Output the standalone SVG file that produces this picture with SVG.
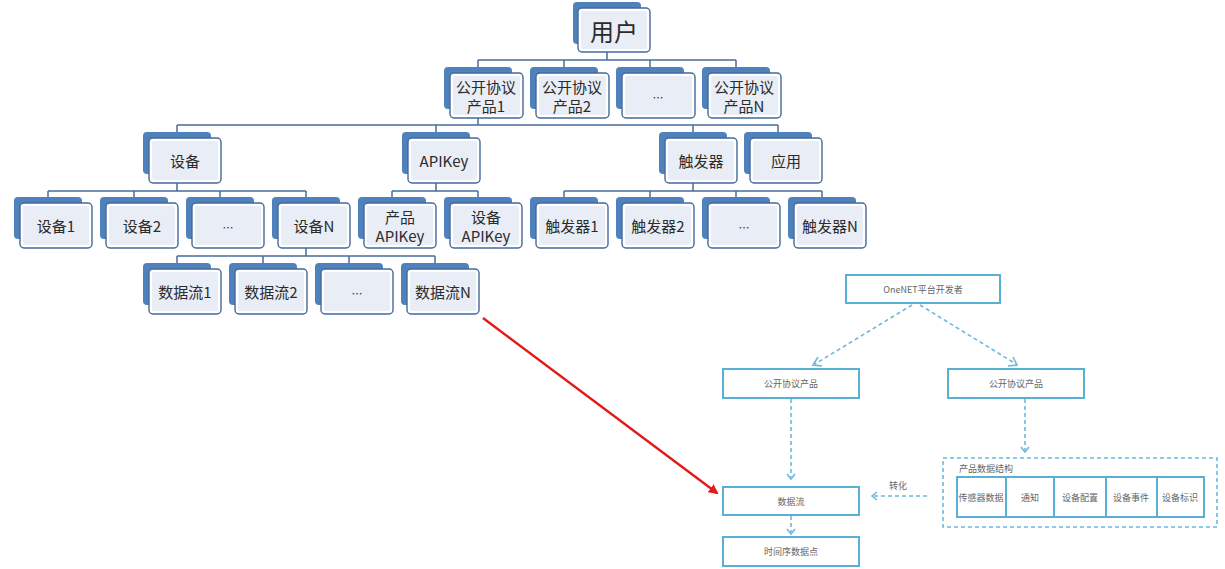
<svg xmlns="http://www.w3.org/2000/svg" width="1225" height="569" viewBox="0 0 1225 569">
<style>
.bk{fill:#4f81bd}
.fr{fill:#ffffff;stroke:#46699a;stroke-width:1.4}
.in{fill:#e9edf5}
.t{font-family:"Noto Sans CJK SC","Noto Sans",sans-serif;font-size:15px;fill:#2b2b2b;text-anchor:middle;dominant-baseline:central}
.tl{font-size:24px}
.el{font-size:11px}
.ln{fill:none;stroke:#4a6c9b;stroke-width:1.5}
.rb{fill:#ffffff;stroke:#5ab0d4;stroke-width:2}
.rt{font-family:"Noto Sans CJK SC","Noto Sans",sans-serif;font-size:9px;fill:#666;text-anchor:middle;dominant-baseline:central}
.dash{fill:none;stroke:#6bb8dc;stroke-width:1.6;stroke-dasharray:4 3}
.chev{fill:none;stroke:#6bb8dc;stroke-width:1.6}
</style>
<defs>
<marker id="red" markerWidth="10" markerHeight="10" refX="8" refY="5" orient="auto" markerUnits="userSpaceOnUse"><path d="M0,0 L10,5 L0,10 z" fill="#e41a1a"/></marker>
</defs>
<rect width="1225" height="569" fill="#ffffff"/>
<g id="connectors">
<path class="ln" d="M607,52 V60 M478,60 H736 M478,60 V67 M564,60 V67 M650,60 V67 M736,60 V67"/>
<path class="ln" d="M478,118 V125 M177,125 H778 M177,125 V132 M436,125 V132 M693,125 V132 M778,125 V132"/>
<path class="ln" d="M177,183 V191 M48,191 H306 M48,191 V197 M134,191 V197 M220,191 V197 M306,191 V197"/>
<path class="ln" d="M436,183 V191 M392,191 H478 M392,191 V197 M478,191 V197"/>
<path class="ln" d="M693,183 V191 M564,191 H822 M564,191 V197 M650,191 V197 M736,191 V197 M822,191 V197"/>
<path class="ln" d="M306,248 V256 M177,256 H435 M177,256 V263 M263,256 V263 M349,256 V263 M435,256 V263"/>
<line x1="483" y1="318" x2="717" y2="493" stroke="#e41a1a" stroke-width="2.5" marker-end="url(#red)"/>
</g>
<g id="n-user"><rect class="bk" x="573" y="2" width="68" height="42" rx="4"/><rect class="fr" x="578" y="8" width="72" height="44" rx="4"/><rect class="in" x="581" y="11" width="66" height="38" rx="2"/><text class="t tl" x="614" y="30">用户</text></g>
<g id="n-p1"><rect class="bk" x="444" y="67" width="68" height="42" rx="4"/><rect class="fr" x="450" y="73" width="73" height="45" rx="4"/><rect class="in" x="453" y="76" width="67" height="39" rx="2"/><text class="t" x="486" y="86">公开协议</text><text class="t" x="486" y="105">产品1</text></g>
<g id="n-p2"><rect class="bk" x="530" y="67" width="68" height="42" rx="4"/><rect class="fr" x="536" y="73" width="73" height="45" rx="4"/><rect class="in" x="539" y="76" width="67" height="39" rx="2"/><text class="t" x="572" y="86">公开协议</text><text class="t" x="572" y="105">产品2</text></g>
<g id="n-pd"><rect class="bk" x="616" y="67" width="68" height="42" rx="4"/><rect class="fr" x="622" y="73" width="73" height="45" rx="4"/><rect class="in" x="625" y="76" width="67" height="39" rx="2"/><text class="t el" x="658" y="97">…</text></g>
<g id="n-pn"><rect class="bk" x="702" y="67" width="68" height="42" rx="4"/><rect class="fr" x="708" y="73" width="73" height="45" rx="4"/><rect class="in" x="711" y="76" width="67" height="39" rx="2"/><text class="t" x="744" y="86">公开协议</text><text class="t" x="744" y="105">产品N</text></g>
<g id="n-dev"><rect class="bk" x="143" y="132" width="68" height="42" rx="4"/><rect class="fr" x="149" y="138" width="72" height="45" rx="4"/><rect class="in" x="152" y="141" width="66" height="39" rx="2"/><text class="t" x="185" y="160">设备</text></g>
<g id="n-api"><rect class="bk" x="402" y="132" width="68" height="42" rx="4"/><rect class="fr" x="408" y="138" width="72" height="45" rx="4"/><rect class="in" x="411" y="141" width="66" height="39" rx="2"/><text class="t" x="444" y="160">APIKey</text></g>
<g id="n-trg"><rect class="bk" x="659" y="132" width="68" height="42" rx="4"/><rect class="fr" x="665" y="138" width="72" height="45" rx="4"/><rect class="in" x="668" y="141" width="66" height="39" rx="2"/><text class="t" x="701" y="160">触发器</text></g>
<g id="n-app"><rect class="bk" x="744" y="132" width="68" height="42" rx="4"/><rect class="fr" x="750" y="138" width="72" height="45" rx="4"/><rect class="in" x="753" y="141" width="66" height="39" rx="2"/><text class="t" x="786" y="160">应用</text></g>
<g id="n-d1"><rect class="bk" x="14" y="197" width="68" height="42" rx="4"/><rect class="fr" x="20" y="203" width="72" height="45" rx="4"/><rect class="in" x="23" y="206" width="66" height="39" rx="2"/><text class="t" x="56" y="225">设备1</text></g>
<g id="n-d2"><rect class="bk" x="100" y="197" width="68" height="42" rx="4"/><rect class="fr" x="106" y="203" width="72" height="45" rx="4"/><rect class="in" x="109" y="206" width="66" height="39" rx="2"/><text class="t" x="142" y="225">设备2</text></g>
<g id="n-dd"><rect class="bk" x="186" y="197" width="68" height="42" rx="4"/><rect class="fr" x="192" y="203" width="72" height="45" rx="4"/><rect class="in" x="195" y="206" width="66" height="39" rx="2"/><text class="t el" x="228" y="227">…</text></g>
<g id="n-dn"><rect class="bk" x="272" y="197" width="68" height="42" rx="4"/><rect class="fr" x="278" y="203" width="72" height="45" rx="4"/><rect class="in" x="281" y="206" width="66" height="39" rx="2"/><text class="t" x="314" y="225">设备N</text></g>
<g id="n-pak"><rect class="bk" x="358" y="197" width="68" height="42" rx="4"/><rect class="fr" x="364" y="203" width="72" height="45" rx="4"/><rect class="in" x="367" y="206" width="66" height="39" rx="2"/><text class="t" x="400" y="216">产品</text><text class="t" x="400" y="235">APIKey</text></g>
<g id="n-dak"><rect class="bk" x="444" y="197" width="68" height="42" rx="4"/><rect class="fr" x="450" y="203" width="72" height="45" rx="4"/><rect class="in" x="453" y="206" width="66" height="39" rx="2"/><text class="t" x="486" y="216">设备</text><text class="t" x="486" y="235">APIKey</text></g>
<g id="n-t1"><rect class="bk" x="530" y="197" width="68" height="42" rx="4"/><rect class="fr" x="536" y="203" width="72" height="45" rx="4"/><rect class="in" x="539" y="206" width="66" height="39" rx="2"/><text class="t" x="572" y="225">触发器1</text></g>
<g id="n-t2"><rect class="bk" x="616" y="197" width="68" height="42" rx="4"/><rect class="fr" x="622" y="203" width="72" height="45" rx="4"/><rect class="in" x="625" y="206" width="66" height="39" rx="2"/><text class="t" x="658" y="225">触发器2</text></g>
<g id="n-td"><rect class="bk" x="702" y="197" width="68" height="42" rx="4"/><rect class="fr" x="708" y="203" width="72" height="45" rx="4"/><rect class="in" x="711" y="206" width="66" height="39" rx="2"/><text class="t el" x="744" y="227">…</text></g>
<g id="n-tn"><rect class="bk" x="788" y="197" width="68" height="42" rx="4"/><rect class="fr" x="794" y="203" width="72" height="45" rx="4"/><rect class="in" x="797" y="206" width="66" height="39" rx="2"/><text class="t" x="830" y="225">触发器N</text></g>
<g id="n-s1"><rect class="bk" x="143" y="263" width="68" height="42" rx="4"/><rect class="fr" x="149" y="269" width="72" height="45" rx="4"/><rect class="in" x="152" y="272" width="66" height="39" rx="2"/><text class="t" x="185" y="291">数据流1</text></g>
<g id="n-s2"><rect class="bk" x="229" y="263" width="68" height="42" rx="4"/><rect class="fr" x="235" y="269" width="72" height="45" rx="4"/><rect class="in" x="238" y="272" width="66" height="39" rx="2"/><text class="t" x="271" y="291">数据流2</text></g>
<g id="n-sd"><rect class="bk" x="315" y="263" width="68" height="42" rx="4"/><rect class="fr" x="321" y="269" width="72" height="45" rx="4"/><rect class="in" x="324" y="272" width="66" height="39" rx="2"/><text class="t el" x="357" y="293">…</text></g>
<g id="n-sn"><rect class="bk" x="401" y="263" width="68" height="42" rx="4"/><rect class="fr" x="407" y="269" width="72" height="45" rx="4"/><rect class="in" x="410" y="272" width="66" height="39" rx="2"/><text class="t" x="443" y="291">数据流N</text></g>
<g id="right-connectors">
<path class="dash" d="M912,305 L815,364"/>
<path class="chev" d="M818,357 L813,365 L822,366"/>
<path class="dash" d="M920,305 L1016,364"/>
<path class="chev" d="M1008,366 L1017,365 L1013,357"/>
<path class="dash" d="M791,399 V477"/>
<path class="chev" d="M787,474 L791,479 L795,474"/>
<path class="dash" d="M791,516 V532"/>
<path class="chev" d="M787,529 L791,534 L795,529"/>
<path class="dash" d="M1025,399 V450"/>
<path class="chev" d="M1021,447 L1025,452 L1029,447"/>
<path class="dash" d="M927,496 H874"/>
<path class="chev" d="M877,492 L872,496 L877,500"/>
<text class="rt" x="898" y="485">转化</text>
</g>
<g id="r-dev"><rect class="rb" x="846" y="275" width="154" height="28"/><text class="rt" x="923" y="289">OneNET平台开发者</text></g>
<g id="r-p1"><rect class="rb" x="723" y="369" width="136" height="29"/><text class="rt" x="791" y="383.5">公开协议产品</text></g>
<g id="r-p2"><rect class="rb" x="948" y="369" width="136" height="29"/><text class="rt" x="1016" y="383.5">公开协议产品</text></g>
<g id="r-flow"><rect class="rb" x="723" y="487" width="136" height="28"/><text class="rt" x="791" y="501">数据流</text></g>
<g id="r-pts"><rect class="rb" x="723" y="537" width="136" height="29"/><text class="rt" x="791" y="551.5">时间序数据点</text></g>
<g id="r-struct">
<rect class="dash" x="943" y="458" width="274" height="69"/>
<text class="rt" x="959" y="468" style="text-anchor:start">产品数据结构</text>
<rect class="rb" x="957" y="477" width="247" height="40"/>
<path class="rb" d="M1006,477 V517 M1054,477 V517 M1106,477 V517 M1157,477 V517"/>
<text class="rt" x="981" y="497">传感器数据</text>
<text class="rt" x="1030" y="497">通知</text>
<text class="rt" x="1080" y="497">设备配置</text>
<text class="rt" x="1131" y="497">设备事件</text>
<text class="rt" x="1180" y="497">设备标识</text>
</g>
</svg>
